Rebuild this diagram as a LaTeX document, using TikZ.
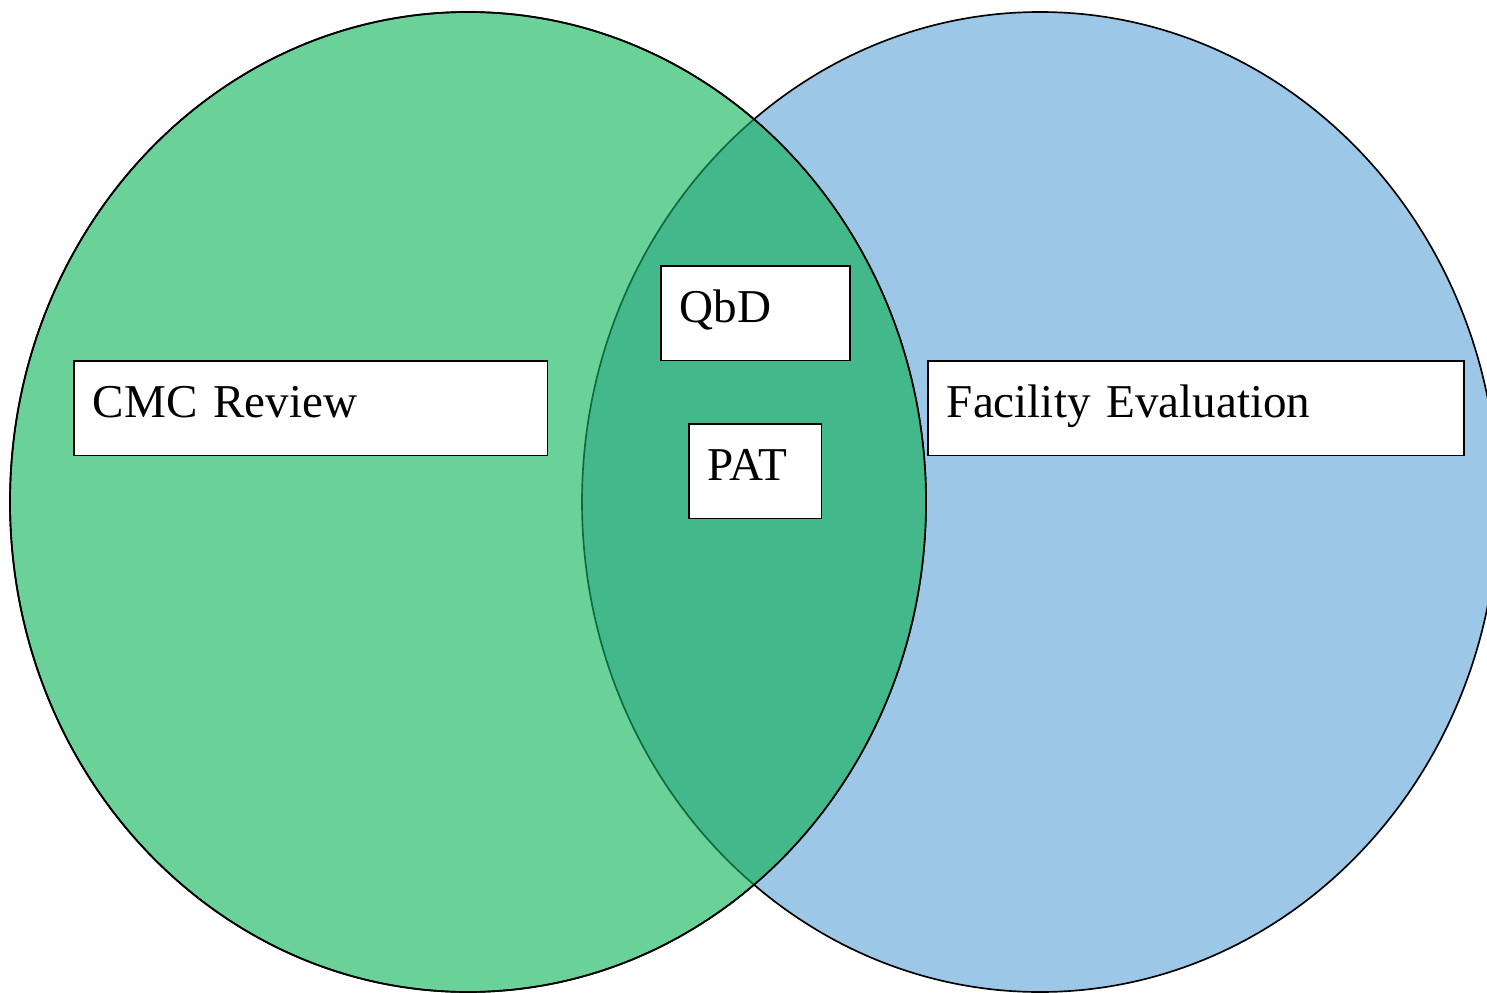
\documentclass[tikz,border=0pt]{standalone}
\usepackage{fontspec}
\setmainfont{Liberation Serif}
\usepackage{xcolor}
\definecolor{cmcgreen}{HTML}{6AD199}
\definecolor{facblue}{HTML}{9DC7E6}
\definecolor{bothgreen}{HTML}{43B88B}
\definecolor{bothedge}{HTML}{0E6B3F}
\usepackage{tikz}
\usetikzlibrary{positioning}

\begin{document}
\begin{tikzpicture}[x=0.02cm, y=-0.02cm, line width=0.95pt,
    namebox/.style={draw, fill=white, anchor=north west, inner xsep=10.8pt,
      inner ysep=0pt, text height=32.3pt, text depth=21.6pt, align=left,
      font=\fontsize{26.8}{32}\selectfont}]
    \newcommand\rx{458}
    \newcommand\ry{490}

    \useasboundingbox (0, 0) rectangle (1487, 993);
    \clip (0, 0) rectangle (1487, 993);

    \filldraw [fill=facblue] (1040, 502) ellipse [x radius=\rx, y radius=\ry];
    \filldraw [fill=cmcgreen] (468, 502) ellipse [x radius=\rx, y radius=\ry];

    \begin{scope}
      \clip (468, 502) ellipse [x radius=\rx, y radius=\ry];
      \filldraw [fill=bothgreen, draw=bothedge]
      (1040, 502) ellipse [x radius=\rx, y radius=\ry];
    \end{scope}
    \draw (468, 502) ellipse [x radius=\rx, y radius=\ry];

    \node [namebox, text width=248pt] (cmc) at (73, 360) {CMC Review};
    \node [namebox, text width=86.2pt] (qbd) at (660, 265) {QbD};
    \node [namebox, text width=53.9pt] (pat) at (688, 423) {PAT};
    \node [namebox, text width=283.7pt] (facility) at (927, 360)
    {Facility Evaluation};

  \end{tikzpicture}
\end{document}
